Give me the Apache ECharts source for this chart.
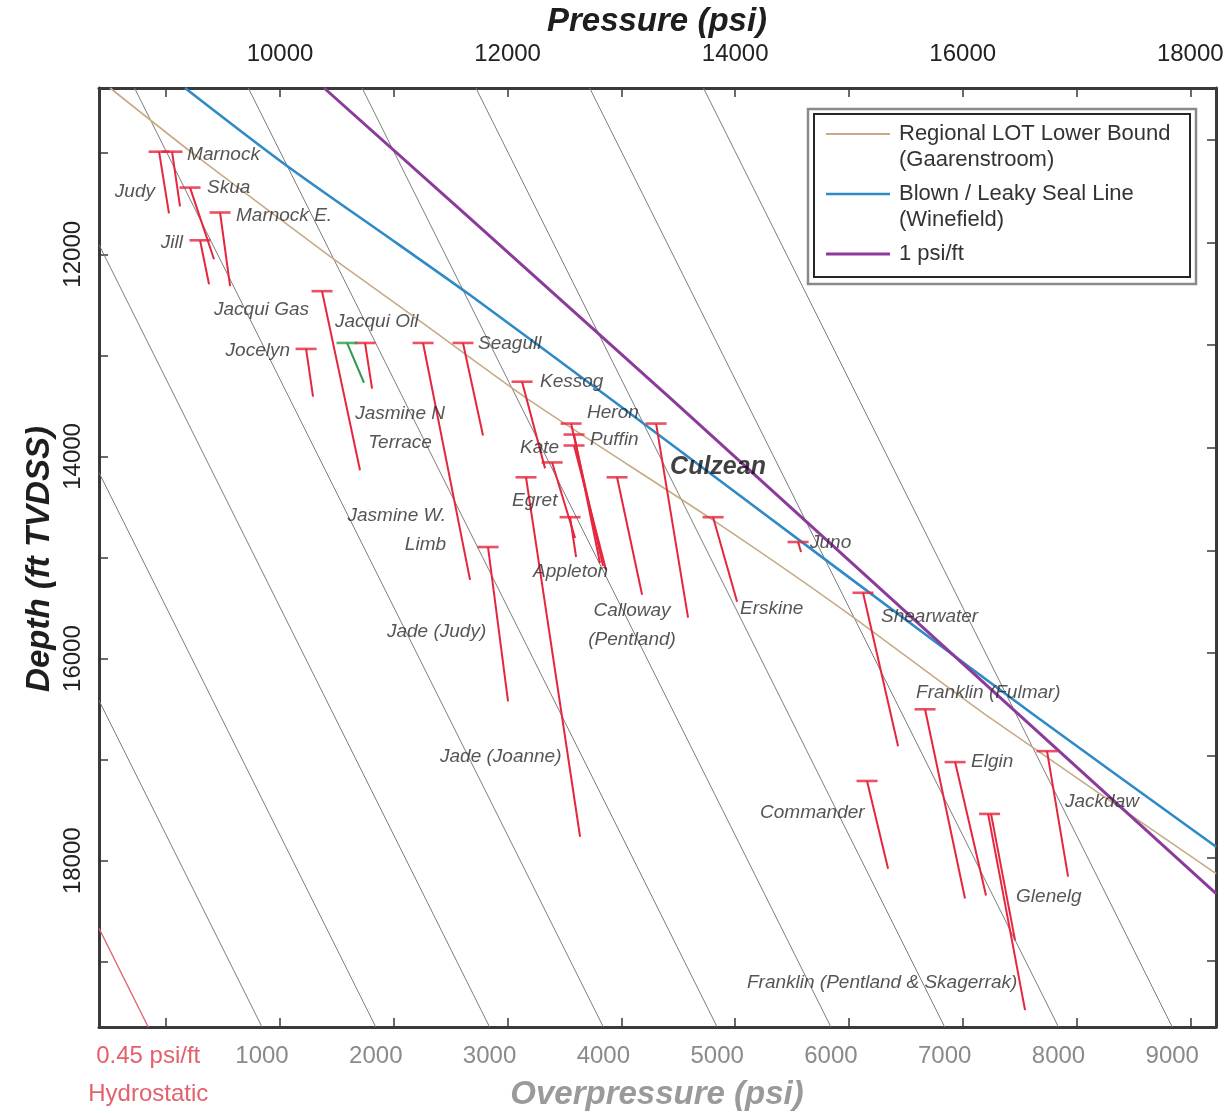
<!DOCTYPE html>
<html>
<head>
<meta charset="utf-8">
<script src="https://cdn.jsdelivr.net/npm/echarts@6/dist/echarts.min.js"></script>
<style>
  html, body { margin: 0; padding: 0; background: #ffffff; }
  #chart { width: 1229px; height: 1113px; }
</style>
</head>
<body>
<div id="chart"></div>
<script>
// ---- axis extents -------------------------------------------------------
const pressureRange = [8409, 18226];          // psi, top axis
const depthLabelRange = [10355, 19645];       // ft TVDSS, labelled left axis
const depthRange = [10492, 19648];            // ft TVDSS, depth scale of the plotted data
const hydroGradient = 0.45;                   // psi/ft

const pressureTicks = [9000, 10000, 11000, 12000, 13000, 14000, 15000, 16000, 17000, 18000];
const pressureLabels = [10000, 12000, 14000, 16000, 18000];
const depthTicks = [11000, 12000, 13000, 14000, 15000, 16000, 17000, 18000, 19000];
const depthLabels = [12000, 14000, 16000, 18000];
const overpressureLabels = [0, 1000, 2000, 3000, 4000, 5000, 6000, 7000, 8000, 9000];
const overpressureLines = [1000, 2000, 3000, 4000, 5000, 6000, 7000, 8000, 9000];

// ---- reference lines [pressure, depth] ----------------------------------
const lotLowerBound = [[8506, 10492], [9271, 11162], [10439, 12133], [11204, 12744],
  [12197, 13541], [13806, 14706], [14948, 15580], [16196, 16599], [18227, 18152]];
const leakySealLine = [[9165, 10492], [10035, 11230], [11028, 12007], [11670, 12511],
  [12927, 13541], [14948, 15220], [16618, 16599], [18227, 17890]];
const onePsiLine = [[10387, 10492], [11670, 11764], [13454, 13541], [18227, 18347]];

// ---- field pressure data --------------------------------------------------
// top of each measured interval [pressure, depth]
const wellTops = [
  [8937, 11113],   // Judy
  [9051, 11113],   // Marnock
  [9209, 11463],   // Skua
  [9473, 11706],   // Marnock E.
  [9297, 11977],   // Jill
  [10369, 12473],  // Jacqui Gas
  [10229, 13036],  // Jocelyn
  [10747, 12978],  // Jacqui Oil
  [11257, 12978],  // Jasmine W. Limb
  [11608, 12978],  // Seagull
  [12127, 13356],  // Kessog
  [12558, 13764],  // Heron
  [12584, 13871],  // Puffin
  [12584, 13978],  // Puffin
  [12391, 14143],  // Kate
  [12549, 14677],  // Appleton
  [12162, 14288],  // Egret / Jade (Joanne)
  [12962, 14288],  // Calloway
  [13305, 13764],  // Culzean
  [13806, 14677],  // Erskine
  [14553, 14919],  // Juno
  [11828, 14968],  // Jade (Judy)
  [15124, 15414],  // Shearwater
  [15669, 16550],  // Franklin (Fulmar)
  [15933, 17065],  // Elgin
  [15159, 17249],  // Commander
  [16741, 16958],  // Jackdaw
  [16236, 17570]   // Glenelg / Franklin (Pentland & Skagerrak)
];
// pressure trends down each interval [[p, d], [p, d]]
const wellTrends = [
  [[8937, 11113], [9024, 11715]],
  [[9051, 11113], [9121, 11647]],
  [[9209, 11463], [9420, 12162]],
  [[9473, 11706], [9561, 12424]],
  [[9297, 11977], [9376, 12405]],
  [[10369, 12473], [10703, 14220]],
  [[10229, 13036], [10290, 13502]],
  [[10747, 12978], [10809, 13424]],
  [[11257, 12978], [11670, 15288]],
  [[11608, 12978], [11784, 13880]],
  [[12127, 13356], [12329, 14201]],
  [[12558, 13764], [12839, 15152]],
  [[12584, 13871], [12812, 15123]],
  [[12584, 13978], [12865, 15191]],
  [[12391, 14143], [12593, 14880]],
  [[12549, 14677], [12602, 15065]],
  [[12162, 14288], [12637, 17793]],
  [[12962, 14288], [13182, 15434]],
  [[13305, 13764], [13586, 15657]],
  [[13806, 14677], [14017, 15502]],
  [[14553, 14919], [14579, 15016]],
  [[11828, 14968], [12004, 16473]],
  [[15124, 15414], [15432, 16910]],
  [[15669, 16550], [16020, 18395]],
  [[15933, 17065], [16205, 18366]],
  [[15159, 17249], [15344, 18104]],
  [[16741, 16958], [16926, 18182]],
  [[16223, 17570], [16548, 19483]],
  [[16249, 17570], [16460, 18803]]
];
// Jacqui Oil (oil leg, drawn in green)
const jacquiOilTop = [[10589, 12978]];
const jacquiOilTrend = [[[10589, 12978], [10738, 13366]]];

// field names and where they are written [pressure, depth]
const fieldNames = ['Marnock', 'Judy', 'Skua', 'Marnock E.', 'Jill', 'Jacqui Gas', 'Jacqui Oil',
  'Jocelyn', 'Jasmine N\nTerrace', 'Jasmine W.\nLimb', 'Seagull', 'Kessog', 'Heron', 'Puffin',
  'Kate', 'Egret', 'Culzean', 'Juno', 'Appleton', 'Calloway\n(Pentland)', 'Erskine', 'Shearwater',
  'Jade (Judy)', 'Franklin (Fulmar)', 'Jade (Joanne)', 'Elgin', 'Commander', 'Jackdaw', 'Glenelg',
  'Franklin (Pentland & Skagerrak)'];
const fieldNameAt = [[9183, 11143], [8901, 11502], [9358, 11463], [9613, 11735], [9147, 11997],
  [10255, 12657], [10483, 12774], [10088, 13055], [11055, 13812], [11459, 14803], [11740, 12987],
  [12285, 13356], [12698, 13657], [12725, 13919], [12109, 13997], [12039, 14512], [13428, 14191],
  [14658, 14929], [12224, 15211], [13094, 15735], [14043, 15570], [15282, 15647], [10940, 15793],
  [15590, 16385], [11406, 17016], [16073, 17065], [14219, 17560], [16899, 17453], [16469, 18376],
  [14104, 19220]];
const namesEndingAtPoint = ['Judy', 'Jill', 'Jacqui Gas', 'Jocelyn', 'Jasmine W.\nLimb'];
const namesCentredOnPoint = ['Jasmine N\nTerrace', 'Calloway\n(Pentland)'];

// ---- styling ----------------------------------------------------------------
const FONT = "'Liberation Sans', Arial, Helvetica, sans-serif";
const RED = '#e5263f';
const HYDRO_RED = '#e3606c';
const GREEN = '#2f9a4c';
const TAN = '#c6ab84';
const BLUE = '#2f8ac6';
const PURPLE = '#8c3b9b';
const GREY_LINE = '#7c7c7c';
const FRAME = '#3a3a3a';

// constant-overpressure line clipped to the plotting window
function overpressureSegment(op) {
  const [pMin, pMax] = pressureRange;
  const [dTop, dBot] = depthRange;
  let d0 = dTop, p0 = hydroGradient * d0 + op;
  if (p0 < pMin) { p0 = pMin; d0 = (pMin - op) / hydroGradient; }
  let d1 = dBot, p1 = hydroGradient * d1 + op;
  if (p1 > pMax) { p1 = pMax; d1 = (pMax - op) / hydroGradient; }
  return [[p0, d0], [p1, d1]];
}

const overpressureShift = hydroGradient * depthRange[1];
const plainNumber = v => String(Math.round(v));

const labelData = fieldNames.map((name, i) => {
  let align = 'left';
  if (namesEndingAtPoint.includes(name)) align = 'right';
  if (namesCentredOnPoint.includes(name)) align = 'center';
  const isMain = name === 'Culzean';
  return {
    value: fieldNameAt[i],
    label: {
      show: true,
      position: 'inside',
      formatter: name,
      align: align,
      verticalAlign: 'middle',
      fontFamily: FONT,
      fontStyle: 'italic',
      fontWeight: isMain ? 'bold' : 'normal',
      fontSize: isMain ? 25 : 19,
      lineHeight: 29,
      color: isMain ? '#111111' : '#2b2b2b'
    }
  };
});

const chart = echarts.init(document.getElementById('chart'), null, { renderer: 'canvas' });

const option = {
  backgroundColor: '#ffffff',
  animation: false,
  grid: { left: 99, right: 13, top: 88, bottom: 82, containLabel: false },
  xAxis: [
    {
      type: 'value', position: 'top', min: pressureRange[0], max: pressureRange[1],
      axisLine: { show: true, onZero: false, lineStyle: { color: FRAME, width: 3 } },
      axisTick: { show: true, inside: true, length: 9, customValues: pressureTicks,
        lineStyle: { color: FRAME, width: 1.5 } },
      axisLabel: { show: true, customValues: pressureLabels, margin: 22, formatter: plainNumber,
        fontFamily: FONT, fontSize: 24, color: '#222222' },
      splitLine: { show: false }
    },
    {
      type: 'value', position: 'bottom',
      min: pressureRange[0] - overpressureShift, max: pressureRange[1] - overpressureShift,
      axisLine: { show: true, onZero: false, lineStyle: { color: FRAME, width: 3 } },
      axisTick: { show: false },
      axisLabel: {
        show: true, customValues: overpressureLabels, margin: 10,
        fontFamily: FONT, fontSize: 24, color: '#8a8a8a', lineHeight: 38,
        formatter: function (v) {
          return v === 0 ? '{h|0.45 psi/ft}\n{h|Hydrostatic}' : plainNumber(v);
        },
        rich: { h: { fontFamily: FONT, fontSize: 24, color: HYDRO_RED, lineHeight: 38 } }
      },
      splitLine: { show: false }
    },
    {
      type: 'value', position: 'bottom', min: pressureRange[0], max: pressureRange[1],
      axisLine: { show: false, onZero: false },
      axisTick: { show: true, inside: true, length: 9, customValues: pressureTicks,
        lineStyle: { color: FRAME, width: 1.5 } },
      axisLabel: { show: false },
      splitLine: { show: false }
    }
  ],
  yAxis: [
    {
      type: 'value', position: 'left', inverse: true,
      min: depthLabelRange[0], max: depthLabelRange[1],
      axisLine: { show: true, onZero: false, lineStyle: { color: FRAME, width: 3 } },
      axisTick: { show: true, inside: true, length: 9, customValues: depthTicks,
        lineStyle: { color: FRAME, width: 1.5 } },
      axisLabel: { show: true, customValues: depthLabels, rotate: 90, margin: 14,
        formatter: plainNumber, fontFamily: FONT, fontSize: 24, color: '#222222' },
      splitLine: { show: false }
    },
    {
      type: 'value', position: 'right', inverse: true,
      min: depthRange[0], max: depthRange[1],
      axisLine: { show: true, onZero: false, lineStyle: { color: FRAME, width: 3 } },
      axisTick: { show: true, inside: true, length: 9, customValues: depthTicks,
        lineStyle: { color: FRAME, width: 1.5 } },
      axisLabel: { show: false },
      splitLine: { show: false }
    }
  ],
  series: [
    {
      name: 'overpressure contours', type: 'lines', coordinateSystem: 'cartesian2d',
      xAxisIndex: 0, yAxisIndex: 1, silent: true, z: 1,
      lineStyle: { color: GREY_LINE, width: 1, opacity: 1 },
      data: overpressureLines.map(op => ({ coords: overpressureSegment(op) }))
    },
    {
      name: 'hydrostatic', type: 'lines', coordinateSystem: 'cartesian2d',
      xAxisIndex: 0, yAxisIndex: 1, silent: true, z: 2,
      lineStyle: { color: HYDRO_RED, width: 1.3, opacity: 1 },
      data: [{ coords: overpressureSegment(0) }]
    },
    {
      name: 'Regional LOT Lower Bound', type: 'line', xAxisIndex: 0, yAxisIndex: 1,
      data: lotLowerBound, showSymbol: false, smooth: 0.2, z: 3,
      lineStyle: { color: TAN, width: 1.6 }
    },
    {
      name: 'Blown / Leaky Seal Line', type: 'line', xAxisIndex: 0, yAxisIndex: 1,
      data: leakySealLine, showSymbol: false, smooth: 0.3, z: 4,
      lineStyle: { color: BLUE, width: 2.6 }
    },
    {
      name: '1 psi/ft', type: 'line', xAxisIndex: 0, yAxisIndex: 1,
      data: onePsiLine, showSymbol: false, z: 5,
      lineStyle: { color: PURPLE, width: 3 }
    },
    {
      name: 'pressure trends', type: 'lines', coordinateSystem: 'cartesian2d',
      xAxisIndex: 0, yAxisIndex: 1, silent: true, z: 6,
      lineStyle: { color: RED, width: 2, opacity: 1 },
      data: wellTrends.map(c => ({ coords: c }))
    },
    {
      name: 'oil trend', type: 'lines', coordinateSystem: 'cartesian2d',
      xAxisIndex: 0, yAxisIndex: 1, silent: true, z: 6,
      lineStyle: { color: GREEN, width: 2, opacity: 1 },
      data: jacquiOilTrend.map(c => ({ coords: c }))
    },
    {
      name: 'interval tops', type: 'scatter', xAxisIndex: 0, yAxisIndex: 1, z: 7,
      symbol: 'rect', symbolSize: [21, 2.6], itemStyle: { color: RED },
      data: wellTops
    },
    {
      name: 'oil top', type: 'scatter', xAxisIndex: 0, yAxisIndex: 1, z: 7,
      symbol: 'rect', symbolSize: [21, 2.6], itemStyle: { color: GREEN },
      data: jacquiOilTop
    },
    {
      name: 'field names', type: 'scatter', xAxisIndex: 0, yAxisIndex: 1, z: 8,
      symbolSize: 0, silent: true, data: labelData
    }
  ],
  graphic: [
    // axis titles
    { type: 'text', x: 657, y: 22, z: 20,
      style: { text: 'Pressure (psi)', fontFamily: FONT, fontSize: 33, fontWeight: 'bold',
        fontStyle: 'italic', fill: '#1e1e1e', align: 'center', verticalAlign: 'middle' } },
    { type: 'text', x: 657, y: 1095, z: 20,
      style: { text: 'Overpressure (psi)', fontFamily: FONT, fontSize: 33, fontWeight: 'bold',
        fontStyle: 'italic', fill: '#9a9a9a', align: 'center', verticalAlign: 'middle' } },
    { type: 'text', x: 40, y: 559, rotation: Math.PI / 2, z: 20,
      style: { text: 'Depth (ft TVDSS)', fontFamily: FONT, fontSize: 33, fontWeight: 'bold',
        fontStyle: 'italic', fill: '#1e1e1e', align: 'center', verticalAlign: 'middle' } },
    // legend box
    { type: 'group', z: 30, children: [
      { type: 'rect', shape: { x: 808, y: 109, width: 388, height: 175 },
        style: { fill: '#ffffff', stroke: '#8a8a8a', lineWidth: 2.5 } },
      { type: 'rect', shape: { x: 814, y: 114, width: 376, height: 163 },
        style: { fill: 'none', stroke: '#262626', lineWidth: 2 } },
      { type: 'line', shape: { x1: 826, y1: 134, x2: 890, y2: 134 },
        style: { stroke: TAN, lineWidth: 2 } },
      { type: 'line', shape: { x1: 826, y1: 194, x2: 890, y2: 194 },
        style: { stroke: BLUE, lineWidth: 2.6 } },
      { type: 'line', shape: { x1: 826, y1: 254, x2: 890, y2: 254 },
        style: { stroke: PURPLE, lineWidth: 3 } },
      { type: 'text', x: 899, y: 121,
        style: { text: 'Regional LOT Lower Bound\n(Gaarenstroom)', fontFamily: FONT, fontSize: 22,
          lineHeight: 26, fill: '#333333', verticalAlign: 'top' } },
      { type: 'text', x: 899, y: 181,
        style: { text: 'Blown / Leaky Seal Line\n(Winefield)', fontFamily: FONT, fontSize: 22,
          lineHeight: 26, fill: '#333333', verticalAlign: 'top' } },
      { type: 'text', x: 899, y: 241,
        style: { text: '1 psi/ft', fontFamily: FONT, fontSize: 22,
          lineHeight: 26, fill: '#333333', verticalAlign: 'top' } }
    ] }
  ]
};

chart.setOption(option);
</script>
</body>
</html>
